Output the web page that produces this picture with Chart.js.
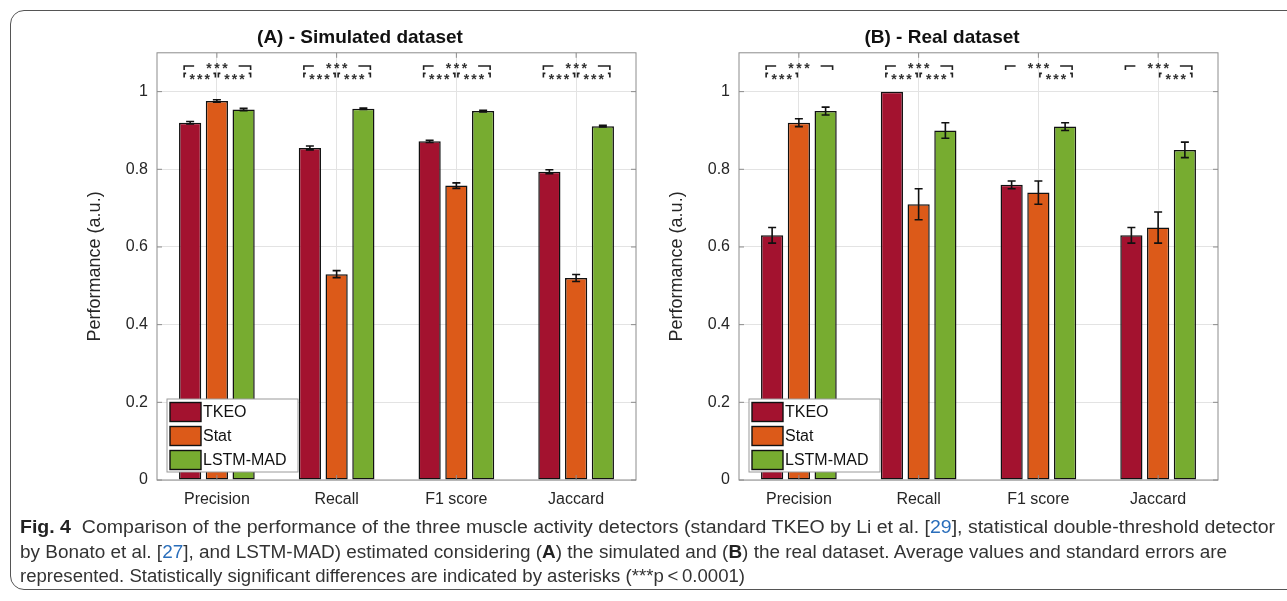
<!DOCTYPE html>
<html>
<head>
<meta charset="utf-8">
<script src="https://cdn.jsdelivr.net/npm/chart.js@4.4.1/dist/chart.umd.min.js"></script>
<style>
  body { margin: 0; background: #fff; width: 1287px; height: 601px; overflow: hidden; position: relative; }
  .frame { position: absolute; left: 10px; top: 10px; width: 1300px; height: 580px; border: 1.5px solid #555; border-radius: 14px; box-sizing: border-box; }
  .chartbox { position: absolute; top: 0; width: 660px; height: 530px; }
  #caption { position: absolute; left: 20px; top: 515px; font-family: "Liberation Sans", Arial, sans-serif; font-size: 17.5px; line-height: 24.5px; color: #333; }
  #caption .ln { white-space: nowrap; transform-origin: 0 50%; width: max-content; }
  #caption b { color: #222; }
  #caption a { color: #2a6ebb; text-decoration: none; }
</style>
</head>
<body>
<div class="frame"></div>
<div class="chartbox" style="left:0px"><canvas id="chartA" width="660" height="530"></canvas></div>
<div class="chartbox" style="left:582px"><canvas id="chartB" width="660" height="530"></canvas></div>
<div id="caption">
  <div class="ln" data-w="1255"><b>Fig. 4</b>&nbsp; Comparison of the performance of the three muscle activity detectors (standard TKEO by Li et al. [<a>29</a>], statistical double-threshold detector</div>
  <div class="ln" data-w="1207">by Bonato et al. [<a>27</a>], and LSTM-MAD) estimated considering (<b>A</b>) the simulated and (<b>B</b>) the real dataset. Average values and standard errors are</div>
  <div class="ln" data-w="725">represented. Statistically significant differences are indicated by asterisks (***p&thinsp;&lt;&thinsp;0.0001)</div>
</div>
<script>
const categories = ["Precision", "Recall", "F1 score", "Jaccard"];
const seriesNames = ["TKEO", "Stat", "LSTM-MAD"];
const seriesColors = ["#a3122f", "#dc5a19", "#77ac30"];
const yTicks = [0, 0.2, 0.4, 0.6, 0.8, 1];

// (A) simulated dataset
const simTkeo = [0.92, 0.855, 0.872, 0.794];
const simStat = [0.976, 0.53, 0.758, 0.52];
const simLstm = [0.954, 0.956, 0.95, 0.911];
const simTkeoErr = [0.003, 0.005, 0.003, 0.005];
const simStatErr = [0.003, 0.009, 0.007, 0.009];
const simLstmErr = [0.003, 0.002, 0.002, 0.002];
// [TKEO vs LSTM, TKEO vs Stat, Stat vs LSTM]
const simSig = [[1, 1, 1], [1, 1, 1], [1, 1, 1], [1, 1, 1]];

// (B) real dataset
const realTkeo = [0.63, 1.0, 0.76, 0.63];
const realStat = [0.92, 0.71, 0.74, 0.65];
const realLstm = [0.95, 0.9, 0.91, 0.85];
const realTkeoErr = [0.02, 0, 0.01, 0.02];
const realStatErr = [0.01, 0.04, 0.03, 0.04];
const realLstmErr = [0.01, 0.02, 0.01, 0.02];
const realSig = [[1, 1, 0], [1, 1, 1], [1, 0, 1], [1, 0, 1]];

const FONT = "'Liberation Sans', Arial, sans-serif";
const TXT = "#262626";

// squeeze caption lines to the widths of the original
document.querySelectorAll("#caption .ln").forEach(el => {
  const w = el.getBoundingClientRect().width;
  el.style.transform = "scaleX(" + (Number(el.dataset.w) / w) + ")";
});

function stars(ctx, cx, cy, gap) {
  // three asterisks centred on cx, glyph centre on cy
  for (let k = -1; k <= 1; k++) ctx.fillText("*", cx + k * gap, cy + 8);
}

// error bars, inner ticks, box, significance brackets, legend
const panelPlugin = {
  id: "panelExtras",
  afterDatasetsDraw(chart) {
    const ctx = chart.ctx;
    const y = chart.scales.y;
    const x = chart.scales.x;
    const area = chart.chartArea;
    const errs = chart.options.plugins.panelExtras.errors;
    const sig = chart.options.plugins.panelExtras.sig;

    // error bars
    ctx.save();
    ctx.strokeStyle = "#111";
    ctx.lineWidth = 1.6;
    chart.data.datasets.forEach((ds, i) => {
      const meta = chart.getDatasetMeta(i);
      meta.data.forEach((bar, j) => {
        const e = errs[i][j];
        if (!e) return;
        const yHi = y.getPixelForValue(ds.data[j] + e);
        const yLo = y.getPixelForValue(ds.data[j] - e);
        ctx.beginPath();
        ctx.moveTo(bar.x, yHi); ctx.lineTo(bar.x, yLo);
        ctx.moveTo(bar.x - 4, yHi); ctx.lineTo(bar.x + 4, yHi);
        ctx.moveTo(bar.x - 4, yLo); ctx.lineTo(bar.x + 4, yLo);
        ctx.stroke();
      });
    });
    ctx.restore();

    // box and inward ticks
    ctx.save();
    ctx.strokeStyle = "#8c8c8c";
    ctx.lineWidth = 1;
    ctx.strokeRect(area.left, area.top, area.right - area.left, area.bottom - area.top);
    ctx.beginPath();
    yTicks.forEach(v => {
      const py = y.getPixelForValue(v);
      ctx.moveTo(area.left, py); ctx.lineTo(area.left + 5, py);
      ctx.moveTo(area.right, py); ctx.lineTo(area.right - 5, py);
    });
    categories.forEach((c, k) => {
      const px = x.getPixelForValue(k);
      ctx.moveTo(px, area.bottom); ctx.lineTo(px, area.bottom - 5);
      ctx.moveTo(px, area.top); ctx.lineTo(px, area.top + 5);
    });
    ctx.stroke();
    ctx.restore();

    // significance brackets
    ctx.save();
    ctx.strokeStyle = "#222";
    ctx.fillStyle = "#333";
    ctx.lineWidth = 1.6;
    ctx.textAlign = "center";
    ctx.textBaseline = "alphabetic";
    ctx.font = "bold 14px " + FONT;
    const m0 = chart.getDatasetMeta(0).data;
    const m1 = chart.getDatasetMeta(1).data;
    const m2 = chart.getDatasetMeta(2).data;
    const yTop = y.getPixelForValue(1.066);
    const yLow = y.getPixelForValue(1.047);
    sig.forEach((s, k) => {
      const L = m0[k].x - 6, M = m1[k].x, R = m2[k].x + 7;
      if (s[0]) {
        ctx.beginPath();
        ctx.moveTo(L, yTop + 4); ctx.lineTo(L, yTop); ctx.lineTo(L + 10, yTop);
        ctx.moveTo(R - 12, yTop); ctx.lineTo(R, yTop); ctx.lineTo(R, yTop + 4);
        ctx.stroke();
        stars(ctx, M, yTop - 1, 8);
      }
      [[s[1], L, M - 1.5], [s[2], M + 1.5, R]].forEach(([on, a, b]) => {
        if (!on) return;
        ctx.beginPath();
        ctx.moveTo(a, yLow + 4); ctx.lineTo(a, yLow); ctx.lineTo(a + 2, yLow);
        ctx.moveTo(b - 2, yLow); ctx.lineTo(b, yLow); ctx.lineTo(b, yLow + 4);
        ctx.stroke();
        stars(ctx, (a + b) / 2, yLow + 2.5, 7.5);
      });
    });
    ctx.restore();

    // legend, bottom-left inside the axes
    ctx.save();
    const bx = area.left + 10, bw = 131, bh = 73, by = area.bottom - 8 - bh;
    ctx.fillStyle = "#fff";
    ctx.fillRect(bx, by, bw, bh);
    ctx.strokeStyle = "#9a9a9a";
    ctx.lineWidth = 1;
    ctx.strokeRect(bx, by, bw, bh);
    ctx.font = "16px " + FONT;
    ctx.textAlign = "left";
    ctx.textBaseline = "middle";
    chart.data.datasets.forEach((ds, i) => {
      const cy = by + 13 + i * 24;
      ctx.fillStyle = ds.backgroundColor;
      ctx.fillRect(bx + 3, cy - 9.5, 31, 19);
      ctx.strokeStyle = "#111";
      ctx.lineWidth = 1.4;
      ctx.strokeRect(bx + 3, cy - 9.5, 31, 19);
      ctx.fillStyle = "#111";
      ctx.fillText(ds.label, bx + 36, cy + 1);
    });
    ctx.restore();
  }
};

function drawPanel(canvasID, title, values, errors, sig) {
  const ctx = document.getElementById(canvasID).getContext("2d");
  const datasets = seriesNames.map((name, i) => ({
    label: name,
    data: values[i],
    backgroundColor: seriesColors[i],
    borderColor: "#111",
    borderWidth: 1.5,
    borderSkipped: false,
    categoryPercentage: 0.67,
    barPercentage: 0.83,
  }));
  return new Chart(ctx, {
    type: "bar",
    data: { labels: categories, datasets: datasets },
    plugins: [panelPlugin],
    options: {
      responsive: false,
      animation: false,
      layout: { padding: { left: 84, right: 24, top: 0, bottom: 0 } },
      plugins: {
        legend: { display: false },
        tooltip: { enabled: false },
        title: {
          display: true,
          text: title,
          color: "#111",
          font: { family: FONT, size: 19, weight: "bold" },
          padding: { top: 26, bottom: 4 },
        },
        panelExtras: { errors: errors, sig: sig },
      },
      scales: {
        x: {
          grid: { offset: false, color: "#e3e3e3", drawTicks: false },
          border: { display: false },
          ticks: { color: TXT, font: { family: FONT, size: 16 }, padding: 10 },
          afterFit: (s) => { s.height = 50; },
        },
        y: {
          min: 0,
          max: 1.1,
          grid: { color: (c) => (c.tick && c.tick.value > 1.05 ? "rgba(0,0,0,0)" : "#e3e3e3"), drawTicks: false },
          border: { display: false },
          ticks: {
            stepSize: 0.2,
            color: TXT,
            font: { family: FONT, size: 16 },
            padding: 9,
            callback: (v) => (v > 1.05 ? "" : String(Math.round(v * 10) / 10)),
          },
          title: {
            display: true,
            text: "Performance (a.u.)",
            color: TXT,
            font: { family: FONT, size: 18 },
            padding: { top: 0, bottom: 0 },
          },
          afterFit: (s) => { s.width = 73; },
        },
      },
    },
  });
}

drawPanel("chartA", "(A) - Simulated dataset",
  [simTkeo, simStat, simLstm], [simTkeoErr, simStatErr, simLstmErr], simSig);
drawPanel("chartB", "(B) - Real dataset",
  [realTkeo, realStat, realLstm], [realTkeoErr, realStatErr, realLstmErr], realSig);
</script>
</body>
</html>
